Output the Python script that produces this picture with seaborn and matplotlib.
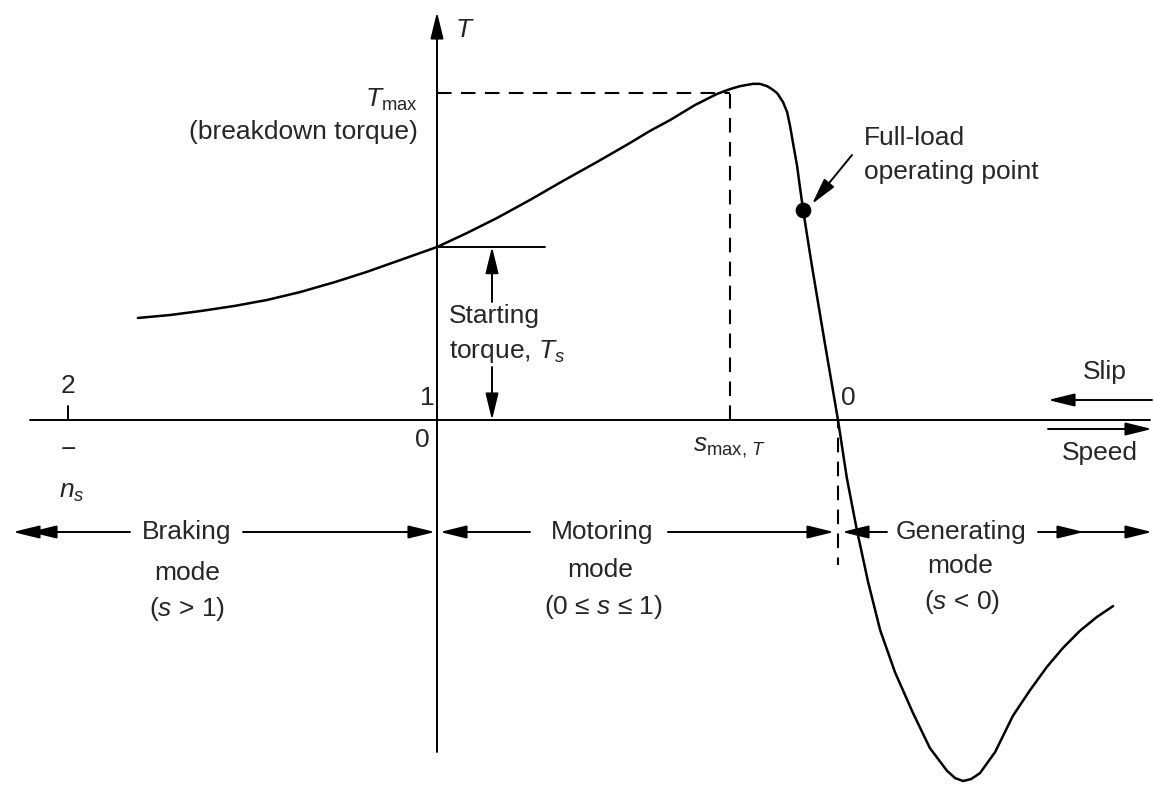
import matplotlib
matplotlib.use("Agg")
import matplotlib.pyplot as plt
import seaborn as sns

# torque-speed curve, speed in per-unit of n_s, torque in per-unit of T_max
speed = [-0.746, -0.666, -0.591, -0.504, -0.424, -0.342, -0.254, -0.175, -0.092, 0.0,
         0.075, 0.150, 0.232, 0.314, 0.399, 0.481, 0.531, 0.581, 0.643, 0.698,
         0.731, 0.756, 0.788, 0.805, 0.823, 0.835, 0.848, 0.863, 0.873, 0.880,
         0.890, 0.898, 0.905, 0.913, 0.935, 0.968, 1.000, 1.022, 1.047, 1.075,
         1.105, 1.142, 1.187, 1.229, 1.272, 1.292, 1.312, 1.332, 1.354, 1.392,
         1.436, 1.479, 1.521, 1.561, 1.603, 1.646, 1.686]
torque = [0.312, 0.321, 0.333, 0.349, 0.367, 0.391, 0.422, 0.453, 0.489, 0.529,
          0.572, 0.618, 0.673, 0.731, 0.789, 0.847, 0.884, 0.917, 0.963, 0.997,
          1.012, 1.021, 1.028, 1.028, 1.021, 1.012, 1.000, 0.972, 0.942, 0.902,
          0.832, 0.777, 0.713, 0.642, 0.471, 0.229, 0.000, -0.177, -0.336, -0.495,
          -0.642, -0.771, -0.896, -1.003, -1.073, -1.095, -1.104, -1.098, -1.080, -1.015,
          -0.905, -0.826, -0.755, -0.697, -0.645, -0.602, -0.569]

full_load = (0.913, 0.642)
T_max = 1.0
T_s = 0.53
s_max_speed = 0.73
sync_speed = 1.0


def P(px, py):
    # layout helper: picture position -> data units
    return ((px - 437) / 401, (420 - py) / 327)


sns.set_theme(style="white")
plt.rcParams["font.family"] = ["Liberation Sans", "DejaVu Sans"]
plt.rcParams["mathtext.fontset"] = "custom"
plt.rcParams["mathtext.rm"] = "Liberation Sans"
plt.rcParams["mathtext.it"] = "Liberation Sans:italic"

fig = plt.figure(figsize=(11.54, 7.86), dpi=100)
ax = fig.add_axes([0, 0, 1, 1])
ax.set_xlim(P(0, 0)[0], P(1154, 0)[0])
ax.set_ylim(P(0, 786)[1], P(0, 0)[1])
ax.axis("off")

K = "black"
HEAD = "-|>,head_length=0.9,head_width=0.22"


def arrow(a, b, lw=1.4):
    ax.annotate("", xy=b, xytext=a,
                arrowprops=dict(arrowstyle=HEAD, color=K, lw=lw, mutation_scale=18,
                                shrinkA=0, shrinkB=0))


# axes
ax.plot([P(30, 0)[0], P(1150, 0)[0]], [0, 0], color=K, lw=1.4)
arrow(P(437, 752), P(437, 12))
ax.plot([P(68, 0)[0]] * 2, [0, P(0, 406)[1]], color=K, lw=1.4)

# curve and operating point
sns.lineplot(x=speed, y=torque, ax=ax, color=K, lw=1.8, sort=False, estimator=None,
             solid_joinstyle="round", solid_capstyle="round")
sns.scatterplot(x=[full_load[0]], y=[full_load[1]], ax=ax, color=K, s=110,
                zorder=5, edgecolor=K)

# dashed guides
dash = dict(color=K, lw=1.5, ls=(0, (7, 4.5)))
ax.plot([0, s_max_speed], [T_max, T_max], **dash)
ax.plot([s_max_speed, s_max_speed], [0, T_max], **dash)
ax.plot([sync_speed, sync_speed], [0, P(0, 565)[1]], color=K, lw=1.5, ls=(3, (7, 4.5)))

# starting torque
ax.plot([0, P(545, 0)[0]], [T_s, T_s], color=K, lw=1.4)
arrow(P(492, 302), (P(492, 0)[0], T_s))
arrow(P(492, 367), (P(492, 0)[0], 0))

fs = 19
ax.text(*P(455, 30), "$T$", fontsize=fs, ha="left", va="center")
ax.text(*P(418, 100), r"$T_{\mathrm{max}}$", fontsize=fs, ha="right", va="center")
ax.text(*P(418, 132), "(breakdown torque)", fontsize=fs, ha="right", va="center")
ax.text(*P(864, 138), "Full-load", fontsize=fs, ha="left", va="center")
ax.text(*P(864, 172), "operating point", fontsize=fs, ha="left", va="center")
arrow(P(852, 155), P(812, 204))

ax.text(*P(449, 316), "Starting", fontsize=fs, ha="left", va="center")
ax.text(*P(449, 351), "torque, $T_s$", fontsize=fs, ha="left", va="center")

ax.text(*P(427, 398), "1", fontsize=fs, ha="center", va="center")
ax.text(*P(422, 440), "0", fontsize=fs, ha="center", va="center")
ax.text(*P(68, 386), "2", fontsize=fs, ha="center", va="center")
ax.text(*P(68, 450), "\u2212", fontsize=fs, ha="center", va="center")
ax.text(*P(72, 492), "$n_s$", fontsize=fs, ha="center", va="center")
ax.text(*P(848, 398), "0", fontsize=fs, ha="center", va="center")
ax.text(*P(730, 448), r"$s_{\mathrm{max},\,T}$", fontsize=fs, ha="center", va="center")

ax.text(*P(1105, 372), "Slip", fontsize=fs, ha="center", va="center")
arrow(P(1152, 400), P(1048, 400))
arrow(P(1048, 429), P(1152, 429))
ax.text(*P(1100, 453), "Speed", fontsize=fs, ha="center", va="center")

# operating modes
ym = 532
arrow(P(130, ym), P(13, ym))
arrow(P(60, ym), P(30, ym))
ax.text(*P(187, ym), "Braking", fontsize=fs, ha="center", va="center")
arrow(P(243, ym), P(435, ym))
ax.text(*P(187, 573), "mode", fontsize=fs, ha="center", va="center")
ax.text(*P(187, 609), "($s$ > 1)", fontsize=fs, ha="center", va="center")

arrow(P(530, ym), P(440, ym))
ax.text(*P(602, ym), "Motoring", fontsize=fs, ha="center", va="center")
arrow(P(668, ym), P(834, ym))
ax.text(*P(600, 570), "mode", fontsize=fs, ha="center", va="center")
ax.text(*P(603, 607), "(0 \u2264 $s$ \u2264 1)", fontsize=fs, ha="center", va="center")

arrow(P(887, ym), P(842, ym))
ax.text(*P(961, ym), "Generating", fontsize=fs, ha="center", va="center")
arrow(P(1038, ym), P(1084, ym))
arrow(P(1080, ym), P(1152, ym))
ax.text(*P(960, 566), "mode", fontsize=fs, ha="center", va="center")
ax.text(*P(962, 602), "($s$ < 0)", fontsize=fs, ha="center", va="center")

fig.savefig("out.png", dpi=100, facecolor="white")
